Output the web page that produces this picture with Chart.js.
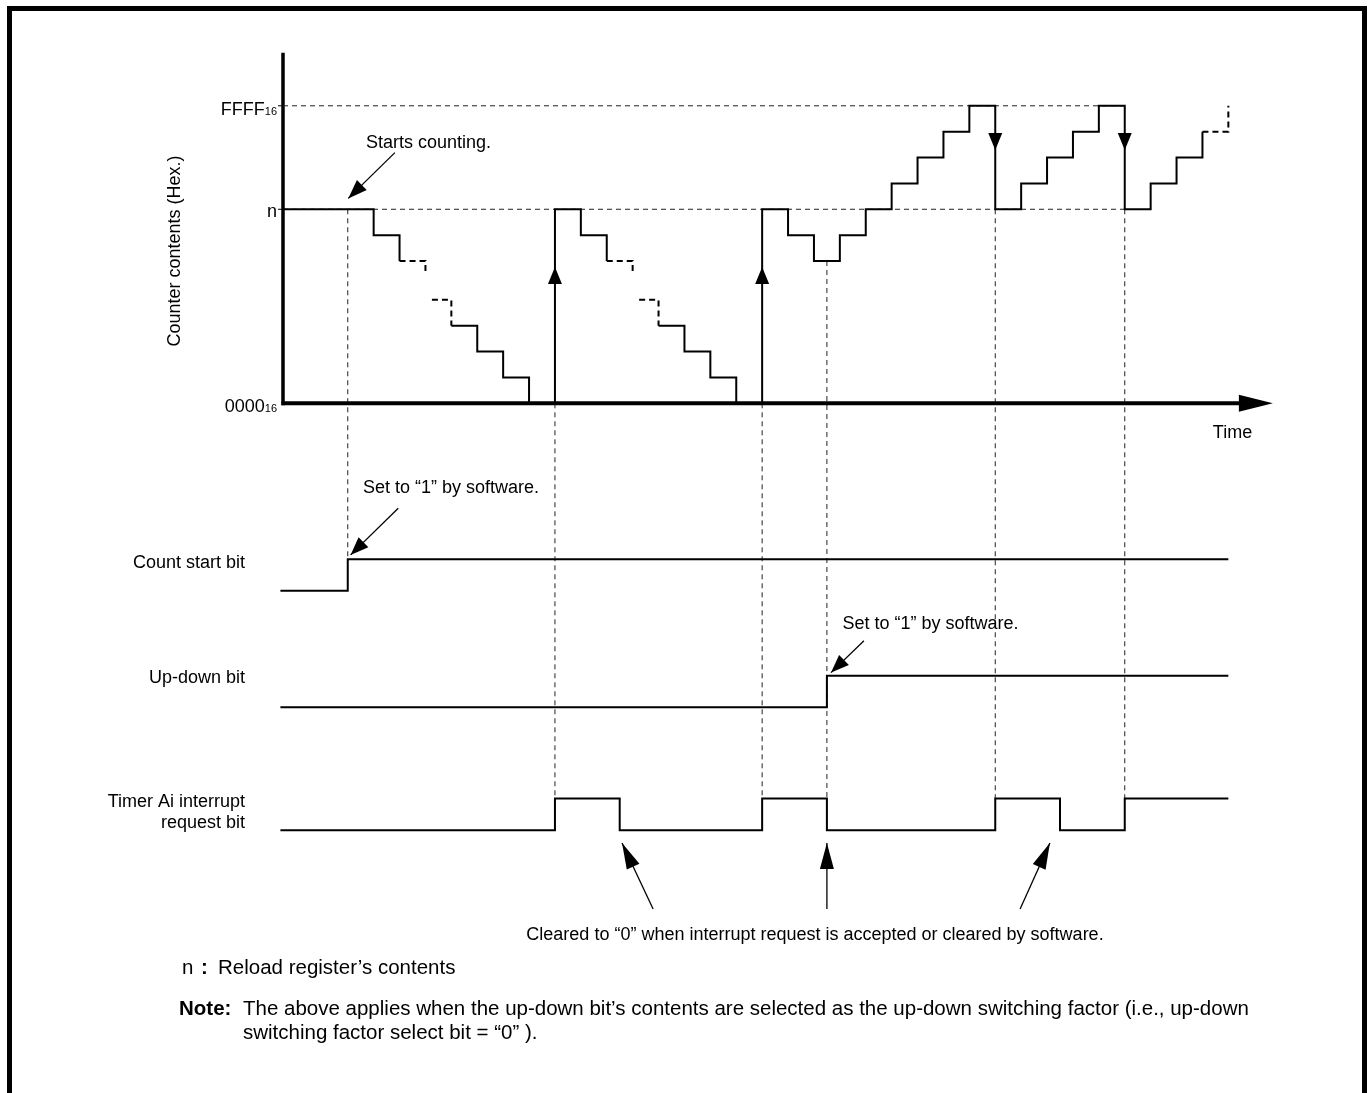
<!DOCTYPE html>
<html>
<head>
<meta charset="utf-8">
<script src="https://cdn.jsdelivr.net/npm/chart.js@4.4.0/dist/chart.umd.min.js"></script>
<style>
  html, body { margin: 0; padding: 0; background: #fff; }
  #wrap { position: relative; width: 1369px; height: 1093px; overflow: hidden; }
  #frame { position: absolute; left: 7px; top: 6px; width: 1350px; height: 1200px; border: 5px solid #000; }
  #timing { position: absolute; left: 0; top: 0; }
</style>
</head>
<body>
<div id="wrap">
  <div id="frame"></div>
  <canvas id="timing" width="1369" height="1093"></canvas>
</div>
<script>
// time in count periods, counter value in count steps (0000 = 0)
const LEVEL_FFFF = 11.5;
const LEVEL_N = 7.5;

// counter contents, drawn as stepped runs (dashed runs = omitted counts)
const counterRunTimes = [
  [0, 3.5, 4.5],
  [4.5, 5.5],
  [5.75, 6.5],
  [6.5, 7.5, 8.5, 9.5, 10.5, 11.5, 12.5],
  [12.5, 13.5],
  [13.75, 14.5],
  [14.5, 15.5, 16.5, 17.5, 18.5, 19.5, 20.5, 21.5, 22.5, 23.5, 24.5,
   25.5, 26.5, 27.5, 28.5, 29.5, 30.5, 31.5, 32.5, 33.5, 34.5, 35.5],
  [35.5, 36.5]
];
const counterRunValues = [
  [7.5, 6.5, 5.5],
  [5.5, 5.0],
  [4, 3],
  [3, 2, 1, 0, 7.5, 6.5, 5.5],
  [5.5, 5.0],
  [4, 3],
  [3, 2, 1, 0, 7.5, 6.5, 5.5, 6.5, 7.5, 8.5, 9.5,
   10.5, 11.5, 7.5, 8.5, 9.5, 10.5, 11.5, 7.5, 8.5, 9.5, 10.5],
  [10.5, 11.5]
];
const counterRunDashed = [false, true, true, false, true, true, false, true];

// reload (underflow) and overflow events
const reloadTimes = [10.5, 18.5];
const overflowTimes = [27.5, 32.5];

// bit signals (0/1)
const countStartTimes = [-0.1, 2.5, 36.5];
const countStartBits = [0, 1, 1];
const upDownTimes = [-0.1, 21, 36.5];
const upDownBits = [0, 1, 1];
const irqTimes = [-0.1, 10.5, 13, 18.5, 21, 27.5, 30, 32.5, 36.5];
const irqBits = [0, 1, 0, 1, 0, 1, 0, 1, 1];

// dashed event guides
const guideTimes = [2.5, 10.5, 18.5, 21, 27.5, 32.5];
const guideFrom = [7.5, 0, 0, 5.5, 7.5, 7.5];
const guideToRow = ["countStart", "irq", "irq", "irq", "irq", "irq"];
const levelGuideEnd = 32.5;

// tick labels
const tickLevels = [LEVEL_FFFF, LEVEL_N, 0];
const tickMain = ["FFFF", "n", "0000"];
const tickSub = ["16", "", "16"];

// ---- layout ----
const W = 1369, H = 1093;
const AXIS_X = 283, ZERO_Y = 403.3;
const PX_T = 25.9, PX_V = 25.87;
const rowBase = { countStart: -7.25, upDown: -11.75, irq: -16.5 };
const BIT_H = 1.22;
const FONT = "'Liberation Sans', Arial, Helvetica, sans-serif";

function bitRow(name, bits) {
  return bits.map((b) => rowBase[name] + b * BIT_H);
}

// Chart.js "before" = run horizontally at the old value, then step
function steppedSet(ts, vs, dashed) {
  return {
    data: ts.map((t, i) => ({ x: t, y: vs[i] })),
    stepped: "before",
    borderColor: "#000",
    borderWidth: 2,
    borderDash: dashed ? [6, 4] : [],
    pointRadius: 0,
    fill: false,
    clip: false,
    order: 0,
  };
}

const datasets = [];
counterRunTimes.forEach((ts, i) => {
  datasets.push(steppedSet(ts, counterRunValues[i], counterRunDashed[i]));
});
datasets.push(steppedSet(countStartTimes, bitRow("countStart", countStartBits), false));
datasets.push(steppedSet(upDownTimes, bitRow("upDown", upDownBits), false));
datasets.push(steppedSet(irqTimes, bitRow("irq", irqBits), false));

guideTimes.forEach((t, i) => {
  datasets.push({
    data: [{ x: t, y: guideFrom[i] }, { x: t, y: rowBase[guideToRow[i]] + BIT_H }],
    borderColor: "#222", borderWidth: 1, borderDash: [5, 4],
    pointRadius: 0, clip: false, order: 2,
  });
});
[LEVEL_FFFF, LEVEL_N].forEach((lv) => {
  datasets.push({
    data: [{ x: 0, y: lv }, { x: levelGuideEnd, y: lv }],
    borderColor: "#222", borderWidth: 1, borderDash: [5, 4],
    pointRadius: 0, clip: false, order: 2,
  });
});

function head(ctx, tx, ty, fx, fy, len, half) {
  const a = Math.atan2(ty - fy, tx - fx);
  const c = Math.cos(a), s = Math.sin(a);
  ctx.beginPath();
  ctx.moveTo(tx, ty);
  ctx.lineTo(tx - len * c + half * s, ty - len * s - half * c);
  ctx.lineTo(tx - len * c - half * s, ty - len * s + half * c);
  ctx.closePath();
  ctx.fill();
}

function callout(ctx, X, Y, from, to, len) {
  ctx.lineWidth = 1.3;
  ctx.beginPath();
  ctx.moveTo(X(from[0]), Y(from[1]));
  ctx.lineTo(X(to[0]), Y(to[1]));
  ctx.stroke();
  head(ctx, X(to[0]), Y(to[1]), X(from[0]), Y(from[1]), len, 7);
}

const drawing = {
  id: "drawing",
  beforeDatasetsDraw(chart) {
    const ctx = chart.ctx;
    const X = (t) => chart.scales.x.getPixelForValue(t);
    const Y = (v) => chart.scales.y.getPixelForValue(v);
    ctx.save();
    ctx.strokeStyle = "#000";
    ctx.fillStyle = "#000";
    // y axis
    ctx.lineWidth = 3.5;
    ctx.beginPath();
    ctx.moveTo(X(0), Y(0) + 2);
    ctx.lineTo(X(0), Y(13.55));
    ctx.stroke();
    // tick marks
    ctx.lineWidth = 1;
    [LEVEL_FFFF, LEVEL_N].forEach((lv) => {
      ctx.beginPath();
      ctx.moveTo(X(0) - 5, Y(lv));
      ctx.lineTo(X(0), Y(lv));
      ctx.stroke();
    });
    ctx.restore();
  },
  afterDatasetsDraw(chart) {
    const ctx = chart.ctx;
    const X = (t) => chart.scales.x.getPixelForValue(t);
    const Y = (v) => chart.scales.y.getPixelForValue(v);
    ctx.save();
    ctx.strokeStyle = "#000";
    ctx.fillStyle = "#000";

    // x axis (Time) with arrow
    ctx.lineWidth = 4;
    ctx.beginPath();
    ctx.moveTo(X(0) - 1.5, Y(0));
    ctx.lineTo(X(37), Y(0));
    ctx.stroke();
    head(ctx, X(38.22), Y(0), X(0), Y(0), 34, 8.5);

    // reload / overflow arrowheads on the counter trace
    reloadTimes.forEach((t) => head(ctx, X(t), Y(5.27), X(t), Y(0), 17, 7));
    overflowTimes.forEach((t) => head(ctx, X(t), Y(9.79), X(t), Y(LEVEL_FFFF), 17, 7));

    // callout arrows
    callout(ctx, X, Y, [4.32, 9.69], [2.52, 7.92], 19);
    callout(ctx, X, Y, [4.45, -4.06], [2.61, -5.86], 18);
    callout(ctx, X, Y, [22.43, -9.18], [21.16, -10.41], 18);
    callout(ctx, X, Y, [14.29, -19.55], [13.09, -17.0], 26);
    callout(ctx, X, Y, [21.0, -19.55], [21.0, -17.0], 26);
    callout(ctx, X, Y, [28.46, -19.55], [29.61, -17.0], 26);

    // tick labels
    tickLevels.forEach((lv, i) => {
      const right = X(0) - 6;
      let y = Y(lv) + (i === 1 ? 8 : 9);
      ctx.font = "11px " + FONT;
      ctx.textAlign = "right";
      ctx.textBaseline = "alphabetic";
      const sw = tickSub[i] ? ctx.measureText(tickSub[i]).width : 0;
      if (tickSub[i]) ctx.fillText(tickSub[i], right, y);
      ctx.font = "18px " + FONT;
      ctx.fillText(tickMain[i], right - sw, y);
    });

    // axis titles
    ctx.font = "18px " + FONT;
    ctx.textAlign = "center";
    ctx.textBaseline = "middle";
    ctx.save();
    ctx.translate(175, 251);
    ctx.rotate(-Math.PI / 2);
    ctx.fillText("Counter contents (Hex.)", 0, 0);
    ctx.restore();
    ctx.textBaseline = "alphabetic";
    ctx.textAlign = "left";
    ctx.fillText("Time", X(35.9), Y(-1.35));

    // callout texts
    ctx.fillText("Starts counting.", X(3.2), Y(9.86));
    ctx.fillText("Set to \u201c1\u201d by software.", X(3.09), Y(-3.48));
    ctx.fillText("Set to \u201c1\u201d by software.", X(21.6), Y(-8.74));
    ctx.textAlign = "center";
    ctx.fillText("Cleared to \u201c0\u201d when interrupt request is accepted or cleared by software.", X(20.54), Y(-20.75));

    // row labels
    ctx.textAlign = "right";
    const lx = X(0) - 38;
    ctx.fillText("Count start bit", lx, Y(rowBase.countStart) - 23);
    ctx.fillText("Up-down bit", lx, Y(rowBase.upDown) - 24);
    ctx.fillText("Timer Ai interrupt", lx, Y(rowBase.irq) - 23);
    ctx.fillText("request bit", lx, Y(rowBase.irq) - 2);

    // footnotes
    ctx.textAlign = "left";
    ctx.font = "20.5px " + FONT;
    ctx.fillText("n", 182, 974);
    ctx.font = "bold 20.5px " + FONT;
    ctx.fillText(":", 201, 974);
    ctx.fillText("Note:", 179, 1015);
    ctx.font = "20.5px " + FONT;
    ctx.fillText("Reload register\u2019s contents", 218, 974);
    ctx.fillText("The above applies when the up-down bit\u2019s contents are selected as the up-down switching factor (i.e., up-down", 243, 1015);
    ctx.fillText("switching factor select bit = \u201c0\u201d ).", 243, 1039);
    ctx.restore();
  },
};

new Chart(document.getElementById("timing"), {
  type: "line",
  data: { datasets: datasets },
  options: {
    responsive: false,
    animation: false,
    devicePixelRatio: 1,
    layout: { padding: 0 },
    plugins: { legend: { display: false }, tooltip: { enabled: false } },
    scales: {
      x: { type: "linear", display: false, min: -AXIS_X / PX_T, max: (W - AXIS_X) / PX_T },
      y: { type: "linear", display: false, min: -(H - ZERO_Y) / PX_V, max: ZERO_Y / PX_V },
    },
  },
  plugins: [drawing],
});
</script>
</body>
</html>
